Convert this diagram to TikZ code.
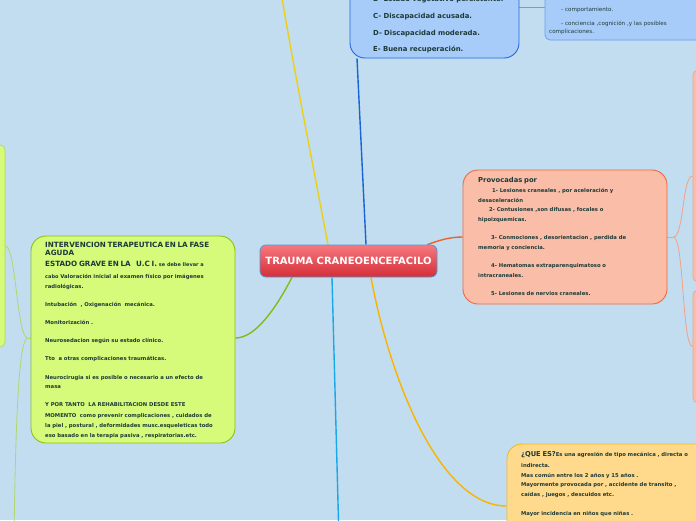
\documentclass[tikz,border=0pt]{standalone}
\usepackage{fontspec}
\setmainfont{DejaVu Sans}
\usetikzlibrary{positioning, calc, backgrounds}
\setlength{\parindent}{0pt}

\definecolor{fondo}{RGB}{194,221,240}
\definecolor{ink}{RGB}{28,58,56}
\definecolor{rojoA}{RGB}{247,120,126}
\definecolor{rojoB}{RGB}{212,46,56}
\definecolor{bordeCentro}{RGB}{84,150,214}
\definecolor{azulFill}{RGB}{168,204,250}
\definecolor{azulBorde}{RGB}{34,104,220}
\definecolor{azulSuave}{RGB}{104,158,232}
\definecolor{salmonFill}{RGB}{250,190,168}
\definecolor{salmonBorde}{RGB}{240,104,64}
\definecolor{salmonSuave}{RGB}{244,160,132}
\definecolor{verdeFill}{RGB}{214,250,122}
\definecolor{verdeBorde}{RGB}{140,192,22}
\definecolor{verdeSuave}{RGB}{176,214,110}
\definecolor{amarFill}{RGB}{255,218,140}
\definecolor{amarBorde}{RGB}{250,186,20}
\definecolor{lineaAmarilla}{RGB}{236,208,24}
\definecolor{lineaAzul}{RGB}{24,100,212}
\definecolor{lineaNaranja}{RGB}{238,98,44}
\definecolor{lineaVerde}{RGB}{134,186,22}
\definecolor{lineaCian}{RGB}{24,168,232}
\definecolor{lineaOro}{RGB}{250,180,0}

\newcommand{\letraGrande}{\fontsize{6.7}{9.6}\selectfont}
\newcommand{\letraTitulo}{\fontsize{7.2}{9.6}\selectfont}
\newcommand{\letraMini}{\fontsize{5.0}{9.6}\selectfont}

\begin{document}
\begin{tikzpicture}[
    x=1pt, y=-1pt,
    idea/.style={draw, line width=0.9pt, rounded corners=15pt, inner sep=0pt},
    hoja/.style={draw, line width=0.7pt, rounded corners=5pt, inner sep=0pt},
    txt/.style={anchor=north west, inner sep=0pt, text width=260pt, align=left, text=ink, font=\bfseries\fontsize{5.3}{9.6}\selectfont},
    rama/.style={line width=1.4pt},
    ramita/.style={line width=0.8pt}
]
    \useasboundingbox (0,0) rectangle (696,520);
    \clip (0,0) rectangle (696,520);

    % Centro
    \node[draw=bordeCentro, line width=0.8pt, rounded corners=6pt, top color=rojoA, bottom color=rojoB,
          minimum width=177pt, minimum height=32pt, text=white, font=\bfseries\fontsize{10}{12}\selectfont]
          (centro) at (348.5,261) {TRAUMA CRANEOENCEFACILO};

    % Escala (arriba)
    \node[idea, fill=azulFill, draw=azulBorde, minimum width=169pt, minimum height=98pt] (escala) at (434.5,9) {};
    \node[txt, font=\bfseries\fontsize{6.9}{16.7}\selectfont] (escalaTxt) at (373,-3.6)
        {B- Estado vegetativo persistente.\\ C- Discapacidad acusada.\\ D- Discapacidad moderada.\\ E- Buena recuperación.};

    % Detalles (arriba derecha)
    \node[hoja, fill=azulFill, draw=azulSuave, minimum width=175pt, minimum height=80pt] (detalles) at (632.5,0) {};
    \node[txt, font=\fontsize{5.6}{8}\selectfont] (detallesTxt) at (549,7.2)
        {\hspace*{12pt}- comportamiento.\\[6pt]
         \hspace*{12pt}- conciencia ,cognición ,y las posibles\\
         complicaciones.};

    % Causas
    \node[idea, fill=salmonFill, draw=salmonBorde, minimum width=204pt, minimum height=134pt] (causas) at (565,237) {};
    \node[txt] (causasTxt) at (478,177.4)
        {{\fontsize{6.8}{9.6}\selectfont Provocadas por}\\[0.4pt]
         \hspace*{14pt}1- Lesiones craneales , por aceleración y\\
         desaceleración\\
         \hspace*{11pt}2- Contusiones ,son difusas , focales o\\
         hipoizquemicas.\\[8.6pt]
         \hspace*{13pt}3- Conmociones , desorientacion , perdida de\\
         memoria y conciencia.\\[8.6pt]
         \hspace*{13pt}4- Hematomas extraparenquimatoso o\\
         intracraneales.\\[8.6pt]
         \hspace*{13pt}5- Lesiones de nervios craneales.};
    \node[hoja, fill=salmonFill, draw=salmonSuave, minimum width=67pt, minimum height=212pt] (causasA) at (726.5,176) {};
    \node[hoja, fill=salmonFill, draw=salmonSuave, minimum width=67pt, minimum height=113pt] (causasB) at (726.5,346.5) {};

    % Tratamiento
    \node[idea, fill=verdeFill, draw=verdeBorde, minimum width=204pt, minimum height=207pt] (tratamiento) at (133,339.5) {};
    \node[txt] (tratamientoTxt) at (45,242.3)
        {{\letraTitulo INTERVENCION TERAPEUTICA EN LA FASE}\\[-1.6pt]
         {\letraTitulo AGUDA}\\[0.6pt]
         {\letraTitulo ESTADO GRAVE EN LA \ \ U.C I.} {\letraMini se debe llevar a}\\[2.4pt]
         {\letraMini cabo} Valoración inicial al examen físico por imágenes\\[0.4pt]
         radiológicas.\\[8.4pt]
         Intubación \ , Oxigenación \ mecánica.\\[8.4pt]
         Monitorización .\\[8.9pt]
         Neurosedacion según su estado clínico.\\[8.4pt]
         Tto \ a otras complicaciones traumáticas.\\[8.9pt]
         Neurocirugia si es posible o necesario a un efecto de\\
         masa\\[8.4pt]
         Y POR TANTO \ LA REHABILITACION DESDE ESTE\\[1.4pt]
         MOMENTO \ como prevenir complicaciones , cuidados de\\[0.4pt]
         la piel , postural , deformidades musc.esqueleticas todo\\[0.4pt]
         eso basado en la terapia pasiva , respiratorias.etc.};
    \node[hoja, fill=verdeFill, draw=verdeSuave, minimum width=65pt, minimum height=202pt] (tratamientoA) at (-27.5,246) {};

    % Definicion
    \node[idea, fill=amarFill, draw=amarBorde, minimum width=253pt, minimum height=136pt] (definicion) at (633.5,512) {};
    \node[txt] (definicionTxt) at (521,451.6)
        {{\letraGrande ¿QUE ES?}Es una agresión de tipo mecánica , directa o\\[1.4pt]
         indirecta.\\[0.4pt]
         Mas común entre los 2 años y 15 años .\\[-0.6pt]
         Mayormente provocada por , accidente de transito ,\\[0.4pt]
         caídas , juegos , descuidos etc.\\[9.4pt]
         Mayor incidencia en niños que niñas .};

    % Extremos fuera del cuadro
    \coordinate (arriba) at (279,-20);
    \coordinate (abajo) at (339,540);
    \coordinate (sur) at (14,540);

    % Conectores
    \begin{scope}[on background layer]
        \clip (0,0) rectangle (696,520);
        \fill[fondo] (0,0) rectangle (696,520);
        \draw[rama, lineaAmarilla] ([xshift=-20.5pt]centro.north) .. controls (312,160) and (292,60) .. (arriba);
        \draw[rama, lineaAzul] ([xshift=17.5pt]centro.north) -- ([xshift=-77.5pt]escala.south);
        \draw[ramita, azulSuave] ([yshift=2pt]escala.east) -- ([yshift=-7pt]detalles.west);
        \draw[rama, lineaNaranja] ([xshift=-10pt]centro.north east) .. controls (440,240) and (450,237) .. (causas.west);
        \draw[ramita, salmonSuave] (causas.east) -- ++(6,0) coordinate (nudoCausas);
        \draw[ramita, salmonSuave] (nudoCausas) .. controls (684,237) and (682,176) .. (causasA.west);
        \draw[ramita, salmonSuave] (nudoCausas) .. controls (684,237) and (682,347) .. (causasB.west);
        \draw[rama, lineaVerde] ([xshift=-56.5pt]centro.south) .. controls (275,310) and (255,338) .. ([yshift=1.5pt]tratamiento.east);
        \draw[ramita, verdeSuave] ([yshift=1.5pt]tratamiento.west) -- ++(-3,0) coordinate (nudoTrat);
        \draw[ramita, verdeSuave] (nudoTrat) .. controls (17,338) and (16,246) .. (tratamientoA.east);
        \draw[ramita, verdeSuave] (nudoTrat) .. controls (21,340) and (16,380) .. (sur);
        \draw[rama, lineaCian] ([xshift=-16.5pt]centro.south) -- (abajo);
        \draw[rama, lineaOro] ([xshift=22.5pt]centro.south) .. controls (390,380) and (440,506) .. ([yshift=6pt]definicion.west);
    \end{scope}
\end{tikzpicture}
\end{document}
